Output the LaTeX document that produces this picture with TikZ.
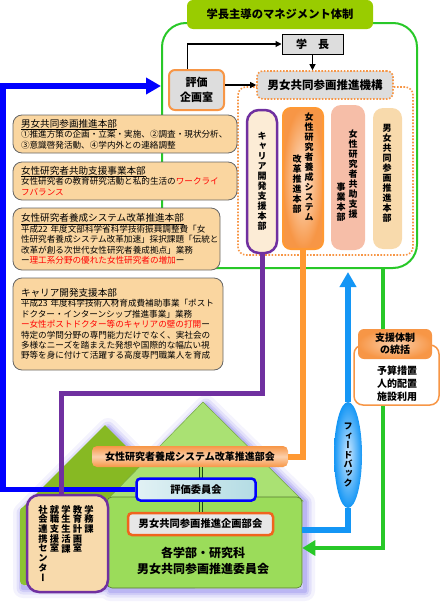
\documentclass[tikz,border=0pt]{standalone}
\usepackage{fontspec}
\setmainfont{Noto Sans CJK JP}
\newfontfamily\tatefont[RawFeature=+vert]{Noto Sans CJK JP}
\usetikzlibrary{arrows.meta,shapes.geometric}

\definecolor{korange}{RGB}{247,150,70}
\definecolor{kline}{RGB}{255,153,51}
\definecolor{kgray}{RGB}{221,221,221}
\definecolor{ktan}{RGB}{250,214,160}
\definecolor{kcream}{RGB}{252,236,214}
\definecolor{ksalmon}{RGB}{246,190,168}
\definecolor{kpeach}{RGB}{248,218,172}
\definecolor{kpurple}{RGB}{112,48,160}
\definecolor{kblue}{RGB}{0,0,255}
\definecolor{ksky}{RGB}{20,150,245}
\definecolor{kskylight}{RGB}{205,232,255}
\definecolor{kgreen}{RGB}{40,200,40}
\definecolor{ktitle}{RGB}{153,204,0}
\definecolor{kleaf}{RGB}{155,220,90}
\definecolor{kolive}{RGB}{135,185,35}
\definecolor{kglow}{RGB}{110,100,230}
\definecolor{kred}{RGB}{255,0,0}
\definecolor{kdkgreen}{RGB}{25,70,25}
\definecolor{kredorange}{RGB}{240,100,30}
\definecolor{kcyan}{RGB}{180,220,228}

\begin{document}
\begin{tikzpicture}[x=1pt,y=-1pt,
  every node/.style={inner sep=0pt},
  honbu/.style={draw=black!60,line width=0.8pt,fill=ktan,rounded corners=9pt,
    align=left,inner xsep=8pt,font=\fontsize{8.6}{10.4}\selectfont},
  tate/.style={align=center,font=\tatefont\bfseries\fontsize{9}{10}\selectfont},
  grayhead/.style={fill=kgray,font=\bfseries\fontsize{11}{15}\selectfont,align=center},
  thinarrow/.style={-{Triangle[length=6pt,width=6pt]},line width=1.1pt},
]
\useasboundingbox (0,0) rectangle (440,605);

% upper part
\node[draw=kgreen,line width=2pt,rounded corners=24pt,minimum width=255pt,minimum height=245pt] (frame) at (289.5,145.5) {};
\node[fill=ktitle,rounded corners=6pt,minimum width=186pt,minimum height=29pt,font=\bfseries\fontsize{11.3}{13}\selectfont] (title) at (280,14.5) {学長主導のマネジメント体制};
\node[grayhead,draw=black,line width=1pt,minimum width=61pt,minimum height=20pt] (gakucho) at (312.5,44) {学　長};
\node[grayhead,draw=korange,line width=2pt,rounded corners=6pt,minimum width=55pt,minimum height=40pt] (hyoka) at (196.5,90) {評価\\企画室};
\node[draw=korange,line width=1.6pt,dash pattern=on 1.6pt off 1.6pt,rounded corners=8pt,minimum width=175pt,minimum height=168pt] (kikoframe) at (325.5,171) {};
\node[grayhead,draw=korange,line width=1.6pt,dash pattern=on 1.6pt off 1.6pt,rounded corners=6pt,minimum width=136pt,minimum height=28pt,font=\bfseries\fontsize{11.5}{13}\selectfont] (kiko) at (325,85) {男女共同参画推進機構};
\draw[thinarrow] ([xshift=-9pt]hyoka.north) |- (gakucho.west);
\draw[thinarrow] (gakucho.south) -- (gakucho.south |- kiko.north);
\draw[thinarrow] (kiko.west -| hyoka.east) -- (kiko.west);

\node[draw=kpurple,line width=2.5pt,fill=kcream,rounded corners=12pt,minimum width=30pt,minimum height=143pt] (career) at (262,181.5) {};
\node[tate] (careertxt) at (262,181) {キ\\ャ\\リ\\ア\\開\\発\\支\\援\\本\\部};
\node[draw=kline,line width=2pt,inner color=korange!25!white,outer color=korange,rounded corners=8pt,minimum width=40pt,minimum height=141pt] (yousei) at (303,178.5) {};
\node[tate,anchor=north] (youseitxt1) at (309,113) {女\\性\\研\\究\\者\\養\\成\\シ\\ス\\テ\\ム};
\node[tate,anchor=north] (youseitxt2) at (297,155) {改\\革\\推\\進\\本\\部};
\node[fill=ksalmon,rounded corners=10pt,minimum width=34pt,minimum height=145pt] (kyojo) at (348,177.5) {};
\node[tate,anchor=north] (kyojotxt1) at (353,130) {女\\性\\研\\究\\者\\共\\助\\支\\援};
\node[tate,anchor=north] (kyojotxt2) at (341,183) {事\\業\\本\\部};
\node[fill=kpeach,rounded corners=10pt,minimum width=29pt,minimum height=141pt] (danjo) at (387.5,178.5) {};
\node[tate,anchor=north] (danjotxt) at (387,124) {男\\女\\共\\同\\参\\画\\推\\進\\本\\部};

% left boxes
\node[honbu,text width=208pt,minimum height=38pt] (danjohonbu) at (125,134) {%
{\fontsize{9.6}{11.5}\selectfont\underline{男女共同参画推進本部}}\\
①推進方策の企画・立案・実施、②調査・現状分析、\\
③意識啓発活動、④学内外との連絡調整};
\node[honbu,text width=208pt,minimum height=38pt] (kyojohonbu) at (125,181) {%
{\fontsize{9.6}{11.5}\selectfont\underline{女性研究者共助支援事業本部}}\\
女性研究者の教育研究活動と私的生活の{\color{kred}ワークライ}\\
{\color{kred}フバランス}};
\node[honbu,text width=191pt,minimum height=62pt] (youseihonbu) at (116.5,239) {%
{\fontsize{9.6}{11.5}\selectfont\underline{女性研究者養成システム改革推進本部}}\\
平成22 年度文部科学省科学技術振興調整費「女\\
性研究者養成システム改革加速」採択課題「伝統と\\
改革が創る次世代女性研究者養成拠点」業務\\
ー{\color{kred}理工系分野の優れた女性研究者の増加}ー};
\node[honbu,text width=194pt,minimum height=92pt] (careerhonbu) at (118,324) {%
{\fontsize{9.6}{11.5}\selectfont\underline{キャリア開発支援本部}}\\
平成23 年度科学技術人材育成費補助事業「ポスト\\
ドクター・インターンシップ推進事業」業務\\
{\color{kred}ー女性ポストドクター等のキャリアの壁の打開}ー\\
特定の学問分野の専門能力だけでなく、実社会の\\
多様なニーズを踏まえた発想や国際的な幅広い視\\
野等を身に付けて活躍する高度専門職業人を育成};

% houses
\begin{scope}[shift={(3,3)}]
\foreach \w/\o in {20/0.08,13/0.12,8/0.16,4/0.22}
  \draw[kglow,line width=\w pt,opacity=\o,line join=round]
    (105,425) -- (190,510) -- (190,585) -- (20,585) -- (20,510) -- cycle
    (203,402) -- (302,499) -- (302,588) -- (107,588) -- (107,499) -- cycle;
\end{scope}
\fill[kolive] (105,425) -- (190,510) -- (20,510) -- cycle;
\node[fill=kolive!75!kleaf,rounded corners=4pt,minimum width=170pt,minimum height=78pt] (hidari) at (105,546) {};
\filldraw[fill=kleaf!85!white,draw=kleaf!75!black,line width=0.5pt] (203,402) -- (303,501) -- (106,501) -- cycle;
\node[fill=kleaf,draw=kleaf!55!black,line width=0.6pt,rounded corners=5pt,minimum width=195pt,minimum height=91pt] (iinkai) at (204.5,542.5) {};
\node[font=\bfseries\fontsize{12}{16}\selectfont,align=center] (iinkaitxt) at (203,561) {各学部・研究科\\男女共同参画推進委員会};

\node[draw=kpurple,line width=2.5pt,fill=kpeach,rounded corners=12pt,minimum width=81pt,minimum height=97pt] (jimu) at (67.5,543.5) {};
\node[tate,anchor=north,font=\tatefont\bfseries\fontsize{9.3}{9.7}\selectfont] (jimu1) at (89,505) {学\\務\\課};
\node[tate,anchor=north,font=\tatefont\bfseries\fontsize{9.3}{9.7}\selectfont] (jimu2) at (77.5,505) {教\\育\\計\\画\\室};
\node[tate,anchor=north,font=\tatefont\bfseries\fontsize{9.3}{9.7}\selectfont] (jimu3) at (66,505) {学\\生\\生\\活\\課};
\node[tate,anchor=north,font=\tatefont\bfseries\fontsize{9.3}{9.7}\selectfont] (jimu4) at (54.5,505) {就\\職\\支\\援\\室};
\node[tate,anchor=north,font=\tatefont\bfseries\fontsize{9.3}{9.7}\selectfont] (jimu5) at (43,505) {社\\会\\連\\携\\セ\\ン\\タ\\ー};

\node[shading=axis,top color=korange,bottom color=korange,middle color=korange!45!white,rounded corners=5pt,minimum width=196pt,minimum height=21pt,font=\bfseries\fontsize{10}{12}\selectfont] (youbukai) at (190,456.5) {女性研究者養成システム改革推進部会};
\node[draw=kredorange,line width=2.5pt,fill=kgray!70!white,rounded corners=4pt,minimum width=145pt,minimum height=22pt,font=\bfseries\fontsize{10.3}{12}\selectfont] (kikaku) at (200.5,524) {男女共同参画推進企画部会};
\coordinate (stem) at (201,0);
\draw[kdkgreen,line width=1pt,double=kleaf,double distance=1.4pt] (stem |- youbukai.south) -- (stem |- kikaku.north);
\node[draw=kblue,line width=2.5pt,left color=kcyan!40!white,right color=kcyan,rounded corners=4pt,minimum width=119pt,minimum height=22pt,font=\bfseries\fontsize{10.3}{12}\selectfont] (hyoiin) at (196,489.5) {評価委員会};

% connectors
\coordinate (bl) at (3,86);
\draw[kblue,line width=5.5pt,-{Triangle[length=15pt,width=16pt]}] (hyoiin.west) -- (hyoiin.west -| bl) -- (bl) -- (bl -| frame.west);
\coordinate (pu) at (61,393);
\draw[kpurple,line width=5pt] (career.south) |- (pu) -- (pu |- jimu.north);
\draw[kline,line width=6pt] (yousei.south) |- (youbukai.east);

\node[ellipse,minimum width=28pt,minimum height=106pt,inner color=kskylight,outer color=ksky] (fb) at (348,455) {};
\node[tate,font=\tatefont\bfseries\fontsize{9}{9.4}\selectfont] (fbtxt) at (348,455) {フ\\ィ\\ー\\ド\\バ\\ッ\\ク};
\coordinate (fbk) at (348,530);
\draw[ksky,line width=5.5pt] (iinkai.east |- fbk) -- (fbk) -- (fb.south);
\draw[ksky,line width=5.5pt,shorten >=3pt,-{Triangle[length=15pt,width=16pt]}] (fb.north) -- (fb.north |- frame.south);
\coordinate (gl) at (383,548);
\draw[kgreen,line width=4.5pt,-{Triangle[length=13pt,width=15pt]}] (gl |- frame.south) -- (gl) -- (iinkai.east |- gl);

\node[draw=korange,line width=1.5pt,fill=white,rounded corners=9pt,minimum width=85pt,minimum height=60pt] (shienbox) at (396.5,375) {};
\node[inner color=korange!45!white,outer color=korange,rounded corners=6pt,minimum width=74pt,minimum height=30pt,align=center,font=\bfseries\fontsize{10}{12}\selectfont] (shien) at (395,344) {支援体制\\の統括};
\node[align=center,font=\bfseries\fontsize{10}{13}\selectfont] (shientxt) at (397,384) {予算措置\\人的配置\\施設利用};
\end{tikzpicture}
\end{document}
